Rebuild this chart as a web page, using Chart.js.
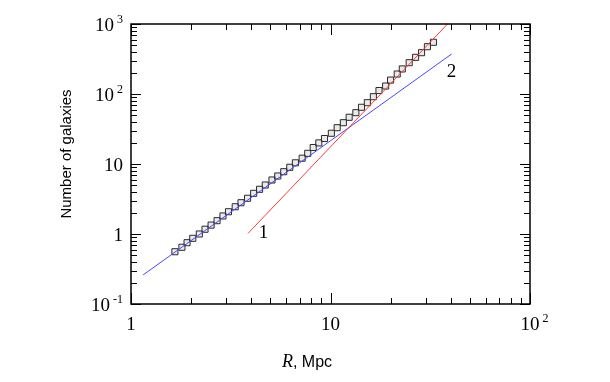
<!DOCTYPE html>
<html>
<head>
<meta charset="utf-8">
<script src="https://cdn.jsdelivr.net/npm/chart.js@4.4.1/dist/chart.umd.min.js"></script>
<style>
  html, body { margin: 0; padding: 0; background: #fff; }
  #wrap { width: 610px; height: 382px; position: relative; }
</style>
</head>
<body>
<div id="wrap"><canvas id="c" width="610" height="382"></canvas></div>
<script>
// ---- data ----
const radii = [1.66,1.80,1.91,2.04,2.20,2.35,2.52,2.70,2.89,3.08,3.33,3.56,3.84,4.12,4.41,4.71,5.09,5.44,5.83,6.25,6.67,7.21,7.69,8.19,8.74,9.33,10.1,10.8,11.6,12.4,13.4,14.3,15.3,16.4,17.5,18.9,20.0,21.6,22.9,24.8,26.7,28.6,30.6,32.8];
const counts = [0.558,0.646,0.751,0.868,1.0,1.17,1.34,1.55,1.81,2.08,2.45,2.80,3.24,3.81,4.35,5.01,5.91,6.74,7.76,8.97,10.4,12.1,14.2,17.2,20.0,23.1,27.5,33.0,38.9,46.5,54.1,64.6,75.1,91.5,112,130,158,193,228,280,334,389,474,548];

const line1R = [3.86, 38.6];
const line1N = [1.02, 1000];
const line2R = [1.15, 40.5];
const line2N = [0.26, 373];

const lineLabels = ['1', '2'];
const lineLabelR = [4.62, 40.4];
const lineLabelN = [1.03, 208];

const xTickValues = [1, 10, 100];
const xTickBase = ['1', '10', '10'];
const xTickExp = ['', '', '2'];
const yTickValues = [0.1, 1, 10, 100, 1000];
const yTickBase = ['10', '1', '10', '10', '10'];
const yTickExp = ['-1', '', '', '2', '3'];

const xMin = 1, xMax = 100, yMin = 0.1, yMax = 1000;

function pts(xs, ys) { return xs.map((v, i) => ({ x: v, y: ys[i] })); }

function minorTicks(lo, hi) {
  const out = [];
  for (let d = lo; d < hi; d *= 10) for (let k = 2; k <= 9; k++) out.push(d * k);
  return out;
}

const frameTicks = {
  id: 'frameTicks',
  afterDraw(chart) {
    const { ctx, chartArea: a, scales: { x, y } } = chart;
    ctx.save();
    ctx.strokeStyle = '#000';
    const seg = (x1, y1, x2, y2) => { ctx.beginPath(); ctx.moveTo(x1, y1); ctx.lineTo(x2, y2); ctx.stroke(); };
    ctx.lineWidth = 1;
    const xMaj = 11, xMin_ = 6, yMaj = 10, yMin_ = 6;
    xTickValues.forEach(v => {
      const p = Math.round(x.getPixelForValue(v)) + 0.5;
      seg(p, a.bottom, p, a.bottom - xMaj); seg(p, a.top, p, a.top + xMaj);
    });
    minorTicks(xMin, xMax).forEach(v => {
      const p = Math.round(x.getPixelForValue(v)) + 0.5;
      seg(p, a.bottom, p, a.bottom - xMin_); seg(p, a.top, p, a.top + xMin_);
    });
    yTickValues.forEach(v => {
      const p = Math.round(y.getPixelForValue(v)) + 0.5;
      seg(a.left, p, a.left + yMaj, p); seg(a.right, p, a.right - yMaj, p);
    });
    minorTicks(yMin, yMax).forEach(v => {
      const p = Math.round(y.getPixelForValue(v)) + 0.5;
      seg(a.left, p, a.left + yMin_, p); seg(a.right, p, a.right - yMin_, p);
    });
    ctx.lineWidth = 1.5;
    ctx.strokeRect(a.left, a.top, a.right - a.left, a.bottom - a.top);

    // tick labels
    ctx.fillStyle = '#000';
    const baseFont = '19px "Liberation Serif", "Times New Roman", serif';
    const expFont = '12px "Liberation Serif", "Times New Roman", serif';
    ctx.textBaseline = 'alphabetic';
    xTickValues.forEach((v, i) => {
      const p = x.getPixelForValue(v);
      ctx.font = baseFont;
      const w = ctx.measureText(xTickBase[i]).width;
      const by = a.bottom + 26;
      ctx.textAlign = 'left';
      ctx.fillText(xTickBase[i], p - w / 2, by);
      if (xTickExp[i]) { ctx.font = expFont; ctx.fillText(xTickExp[i], p + w / 2 + 3, by - 8); }
    });
    yTickValues.forEach((v, i) => {
      const p = y.getPixelForValue(v);
      const right = a.left - 8;
      ctx.font = expFont;
      const ew = yTickExp[i] ? ctx.measureText(yTickExp[i]).width + 3 : 0;
      ctx.font = baseFont;
      const bw = ctx.measureText(yTickBase[i]).width;
      const by = p + 7;
      ctx.textAlign = 'left';
      ctx.fillText(yTickBase[i], right - ew - bw, by);
      if (yTickExp[i]) { ctx.font = expFont; ctx.fillText(yTickExp[i], right - ew + 3, by - 8); }
    });

    // line labels
    ctx.font = '19px "Liberation Serif", "Times New Roman", serif';
    ctx.textAlign = 'center'; ctx.textBaseline = 'middle';
    lineLabels.forEach((t, i) => {
      ctx.fillText(t, x.getPixelForValue(lineLabelR[i]), y.getPixelForValue(lineLabelN[i]));
    });

    // axis titles
    ctx.save();
    ctx.translate(67, 154);
    ctx.rotate(-Math.PI / 2);
    ctx.font = '15px "Liberation Sans", Arial, sans-serif';
    ctx.textAlign = 'center'; ctx.textBaseline = 'middle';
    ctx.fillText('Number of galaxies', 0, 0);
    ctx.restore();

    ctx.textBaseline = 'alphabetic'; ctx.textAlign = 'left';
    const rFont = 'italic 18px "Liberation Serif", "Times New Roman", serif';
    const mFont = '16px "Liberation Sans", Arial, sans-serif';
    ctx.font = rFont;
    const rW = ctx.measureText('R').width;
    ctx.font = mFont;
    const mW = ctx.measureText(', Mpc').width;
    const sx = 307 - (rW + mW) / 2, sy = 367;
    ctx.font = rFont;
    ctx.fillText('R', sx, sy);
    ctx.font = mFont;
    ctx.fillText(', Mpc', sx + rW, sy);
    ctx.restore();
  }
};

new Chart(document.getElementById('c'), {
  type: 'scatter',
  data: {
    datasets: [
      { data: pts(line1R, line1N), showLine: true, borderColor: '#ff3b3b', borderWidth: 1, pointRadius: 0, fill: false },
      { data: pts(line2R, line2N), showLine: true, borderColor: '#4646ff', borderWidth: 1, pointRadius: 0, fill: false },
      { data: pts(radii, counts), showLine: false, pointStyle: 'rect', pointRadius: 4.3, borderWidth: 1, borderColor: '#2a2a2a', backgroundColor: 'rgba(150,150,150,0.2)' }
    ]
  },
  options: {
    responsive: false,
    animation: false,
    devicePixelRatio: 1,
    layout: { padding: { left: 0, right: 80, top: 24, bottom: 0 } },
    plugins: { legend: { display: false }, tooltip: { enabled: false } },
    scales: {
      x: {
        type: 'logarithmic', min: xMin, max: xMax,
        grid: { display: false }, border: { display: false },
        ticks: { display: false },
        afterFit(s) { s.height = 78; }
      },
      y: {
        type: 'logarithmic', min: yMin, max: yMax,
        grid: { display: false }, border: { display: false },
        ticks: { display: false },
        afterFit(s) { s.width = 131; }
      }
    }
  },
  plugins: [frameTicks]
});
</script>
</body>
</html>
